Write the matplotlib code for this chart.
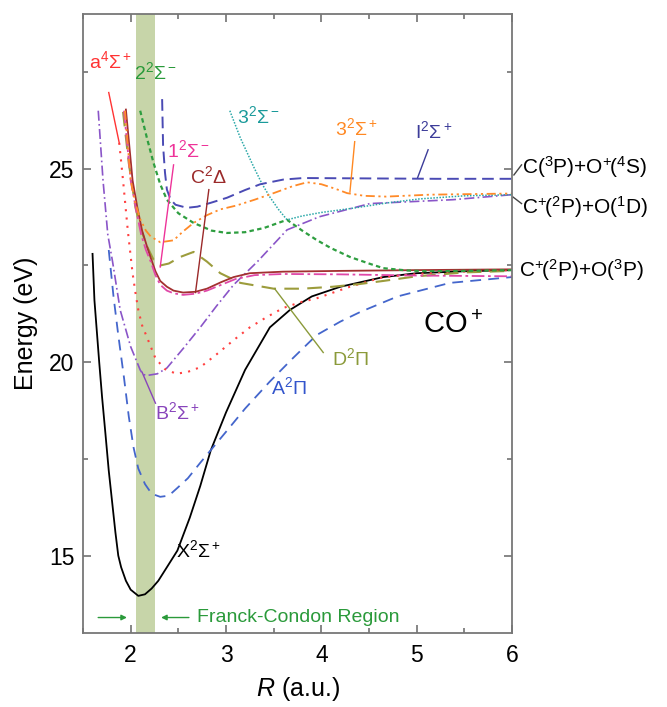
import numpy as np
import matplotlib
matplotlib.use('Agg')
import matplotlib.pyplot as plt
from matplotlib.ticker import MultipleLocator

plt.rcParams['font.family'] = ['Liberation Sans', 'DejaVu Sans']
plt.rcParams['mathtext.fontset'] = 'custom'
plt.rcParams['mathtext.rm'] = 'Liberation Sans'
plt.rcParams['mathtext.it'] = 'Liberation Sans:italic'
plt.rcParams['mathtext.bf'] = 'Liberation Sans:bold'

# potential energy curves of CO+ (R in a.u., E in eV)
R_X = [1.60, 1.62, 1.67, 1.70, 1.735, 1.77, 1.805, 1.84, 1.87, 1.90, 1.95, 2.00, 2.08, 2.15, 2.22, 2.29,
       2.38, 2.49, 2.62, 2.73, 2.84, 3.0, 3.2, 3.46, 3.67, 3.9, 4.2, 4.65, 5.0, 5.5, 6.0]
E_X = [22.8, 21.6, 20.0, 19.1, 18.16, 17.2, 16.4, 15.6, 15.0, 14.7, 14.35, 14.12, 13.96, 14.0, 14.15, 14.35,
       14.7, 15.13, 15.98, 16.8, 17.72, 18.7, 19.8, 20.9, 21.35, 21.7, 21.95, 22.2, 22.3, 22.35, 22.38]

R_A = [1.77, 1.82, 1.87, 1.93, 1.98, 2.03, 2.08, 2.15, 2.22, 2.31, 2.40, 2.49, 2.60, 2.73, 3.0, 3.2,
       3.46, 3.7, 3.95, 4.2, 4.41, 4.8, 5.35, 6.0]
E_A = [22.9, 21.7, 20.7, 19.6, 18.6, 17.8, 17.25, 16.85, 16.6, 16.52, 16.55, 16.75, 17.0, 17.4, 18.2, 18.8,
       19.5, 20.1, 20.7, 21.05, 21.3, 21.7, 22.05, 22.2]

R_B = [1.66, 1.71, 1.76, 1.81, 1.89, 2.0, 2.1, 2.13, 2.18, 2.28, 2.38, 2.55, 2.73, 2.9, 3.08, 3.33,
       3.64, 3.98, 4.51, 5.38, 6.0]
E_B = [26.5, 24.7, 23.3, 22.6, 21.35, 20.4, 19.8, 19.68, 19.66, 19.7, 19.85, 20.35, 20.9, 21.45, 22.0, 22.6,
       23.42, 23.76, 24.1, 24.2, 24.33]

R_a4 = [1.88, 1.92, 1.97, 2.02, 2.05, 2.08, 2.12, 2.17, 2.26, 2.36, 2.48, 2.60, 2.73, 2.9, 3.08, 3.25,
        3.43, 3.6, 3.78, 3.95, 4.3, 4.65, 5.2, 6.0]
E_a4 = [25.67, 24.7, 23.4, 22.3, 21.8, 21.35, 20.95, 20.65, 20.1, 19.82, 19.7, 19.75, 19.87, 20.2, 20.57, 20.9,
        21.17, 21.4, 21.55, 21.65, 21.95, 22.2, 22.32, 22.38]

R_D = [1.92, 1.98, 2.05, 2.10, 2.17, 2.24, 2.31, 2.40, 2.52, 2.66, 2.80, 2.94, 3.15, 3.5, 3.8, 4.12,
       4.4, 4.65, 5.0, 5.5, 6.0]
E_D = [26.47, 25.15, 24.0, 23.5, 23.0, 22.65, 22.5, 22.55, 22.72, 22.85, 22.6, 22.3, 22.05, 21.9, 21.9, 21.95,
       22.02, 22.1, 22.22, 22.32, 22.36]

R_C = [1.95, 2.02, 2.07, 2.12, 2.17, 2.21, 2.26, 2.31, 2.38, 2.45, 2.55, 2.68, 2.8, 2.95, 3.08, 3.25,
       3.6, 4.2, 5.0, 6.0]
E_C = [26.53, 24.7, 24.0, 23.4, 23.0, 22.7, 22.35, 22.1, 21.95, 21.85, 21.8, 21.82, 21.9, 22.07, 22.2, 22.3,
       22.34, 22.36, 22.38, 22.4]

R_1m = [1.93, 2.0, 2.06, 2.11, 2.16, 2.21, 2.26, 2.31, 2.38, 2.45, 2.55, 2.68, 2.8, 2.95, 3.1, 3.3,
        3.6, 4.2, 5.0, 6.0]
E_1m = [26.5, 24.7, 23.9, 23.3, 22.9, 22.6, 22.25, 22.0, 21.85, 21.78, 21.74, 21.77, 21.85, 22.0, 22.15, 22.25,
        22.28, 22.27, 22.24, 22.22]

R_2m = [2.10, 2.17, 2.24, 2.31, 2.38, 2.5, 2.66, 2.85, 3.01, 3.2, 3.4, 3.64, 3.8, 3.95, 4.1, 4.3,
        4.5, 4.65, 4.9, 5.1, 5.5, 6.0]
E_2m = [26.5, 25.8, 25.15, 24.6, 24.2, 23.85, 23.6, 23.4, 23.34, 23.36, 23.47, 23.68, 23.4, 23.16, 22.95, 22.72,
        22.55, 22.43, 22.37, 22.35, 22.36, 22.38]

R_3m = [3.04, 3.15, 3.29, 3.38, 3.46, 3.55, 3.64, 3.8, 4.0, 4.33, 4.7, 5.03, 5.5, 6.0]
E_3m = [26.5, 25.8, 25.05, 24.6, 24.27, 23.95, 23.68, 23.78, 23.87, 23.98, 24.12, 24.22, 24.3, 24.33]

R_3p = [1.94, 2.0, 2.05, 2.1, 2.16, 2.21, 2.31, 2.45, 2.55, 2.66, 2.8, 2.94, 3.11, 3.3, 3.5, 3.7,
        3.85, 4.0, 4.15, 4.27, 4.45, 4.68, 5.14, 6.0]
E_3p = [26.5, 24.7, 24.1, 23.7, 23.4, 23.25, 23.1, 23.15, 23.38, 23.6, 23.8, 23.95, 24.05, 24.2, 24.37, 24.55,
        24.65, 24.6, 24.48, 24.37, 24.3, 24.28, 24.33, 24.36]

R_I = [2.33, 2.34, 2.36, 2.38, 2.42, 2.47, 2.59, 2.7, 2.84, 3.01, 3.2, 3.36, 3.6, 3.81, 4.5, 5.2, 6.0]
E_I = [26.8, 25.6, 24.9, 24.46, 24.2, 24.07, 23.99, 24.02, 24.12, 24.25, 24.45, 24.6, 24.72, 24.76, 24.75, 24.74, 24.74]

fc_region = [2.06, 2.26]

fig = plt.figure(figsize=(6.67, 7.07), dpi=100)
ax = fig.add_axes([83/667, 74/707, 429/667, 619/707])

ax.axvspan(fc_region[0], fc_region[1], color='#c7d5a9', zorder=0, lw=0)

ax.plot(R_X, E_X, color='black', lw=1.3, ls='-')
ax.plot(R_A, E_A, color='#4466cc', lw=1.3, ls=(0, (6, 4)))
ax.plot(R_B, E_B, color='#8a55c8', lw=1.2, ls=(0, (6, 2, 1, 2)))
ax.plot(R_a4, E_a4, color='#ff4040', lw=1.5, ls=(0, (1, 3)))
ax.plot(R_D, E_D, color='#9c9c3c', lw=1.5, ls=(0, (7, 4)))
ax.plot(R_C, E_C, color='#a33030', lw=1.3, ls='-')
ax.plot(R_1m, E_1m, color='#e048a8', lw=1.3, ls=(0, (7, 2, 1.5, 2)))
ax.plot(R_2m, E_2m, color='#2e9e40', lw=1.6, ls=(0, (2, 1.5)))
ax.plot(R_3m, E_3m, color='#2aa8a8', lw=1.1, ls=(0, (1, 1)))
ax.plot(R_3p, E_3p, color='#ff8a28', lw=1.3, ls=(0, (5, 2, 1.2, 2, 1.2, 2)))
ax.plot(R_I, E_I, color='#4a4ab4', lw=1.4, ls=(0, (6, 3)))

ax.set_xlim(1.5, 6)
ax.set_ylim(13, 29)
ax.xaxis.set_major_locator(MultipleLocator(1))
ax.xaxis.set_minor_locator(MultipleLocator(0.5))
ax.yaxis.set_major_locator(MultipleLocator(5))
ax.yaxis.set_minor_locator(MultipleLocator(2.5))
ax.tick_params(which='both', direction='in', top=True, right=True, color='#666666', width=1.1)
ax.tick_params(which='major', length=6, labelsize=16.5, pad=6)
ax.tick_params(which='minor', length=3.5)
ax.tick_params(axis='x', pad=8)
for s in ax.spines.values():
    s.set_color('#777777')
    s.set_linewidth(1.3)

ax.set_xlabel('$R$ (a.u.)', fontsize=18, labelpad=6)
ax.set_ylabel('Energy (eV)', fontsize=18, labelpad=8)

fs = 14
# state labels with leader lines
ax.text(1.79, 27.77, r'a$^4\Sigma^+$', color='#ff3333', fontsize=fs, ha='center', va='center')
ax.plot([1.77, 1.88], [26.97, 25.67], color='#ff3333', lw=1)
ax.text(2.26, 27.5, r'2$^2\Sigma^-$', color='#2a9a3a', fontsize=fs, ha='center', va='center')
ax.text(2.61, 25.49, r'1$^2\Sigma^-$', color='#ee3399', fontsize=fs, ha='center', va='center')
ax.plot([2.45, 2.31], [25.1, 22.46], color='#ee3399', lw=1)
ax.text(2.82, 24.8, r'C$^2\Delta$', color='#9b2a2a', fontsize=fs, ha='center', va='center')
ax.plot([2.82, 2.68], [24.46, 21.8], color='#9b2a2a', lw=1)
ax.text(3.34, 26.37, r'3$^2\Sigma^-$', color='#1a9a9a', fontsize=fs, ha='center', va='center')
ax.text(4.37, 26.04, r'3$^2\Sigma^+$', color='#ff8822', fontsize=fs, ha='center', va='center')
ax.plot([4.35, 4.30], [25.7, 24.4], color='#ff8822', lw=1)
ax.text(5.18, 25.96, r'I$^2\Sigma^+$', color='#3c3c99', fontsize=fs, ha='center', va='center')
ax.plot([5.12, 5.01], [25.49, 24.77], color='#3c3c99', lw=1)
ax.text(4.30, 20.1, r'D$^2\Pi$', color='#8b9a3a', fontsize=fs, ha='center', va='center')
ax.plot([3.51, 4.02], [21.9, 20.25], color='#8b9a3a', lw=1)
ax.text(3.66, 19.35, r'A$^2\Pi$', color='#3355cc', fontsize=fs, ha='center', va='center')
ax.text(2.49, 18.7, r'B$^2\Sigma^+$', color='#8844bb', fontsize=fs, ha='center', va='center')
ax.plot([2.12, 2.26], [19.74, 18.94], color='#8844bb', lw=1)
ax.text(2.71, 15.13, r'X$^2\Sigma^+$', color='black', fontsize=fs, ha='center', va='center')
ax.text(5.38, 20.96, r'CO$^+$', color='black', fontsize=21, ha='center', va='center')

# asymptotes on the right
afs = 15
ax.text(6.10, 25.05, r'C($^3$P)+O$^{+\!}$($^4$S)', fontsize=afs, ha='left', va='center', clip_on=False)
ax.plot([6.02, 6.10], [24.84, 25.1], color='#444444', lw=1, clip_on=False)
ax.text(6.10, 24.0, r'C$^{+\!}$($^2$P)+O($^1$D)', fontsize=afs, ha='left', va='center', clip_on=False)
ax.plot([6.01, 6.10], [24.27, 24.1], color='#444444', lw=1, clip_on=False)
ax.text(6.07, 22.38, r'C$^{+\!}$($^2$P)+O($^3$P)', fontsize=afs, ha='left', va='center', clip_on=False)

# Franck-Condon region marker
fc_green = '#2a9a3a'
ax.annotate('', xy=(1.99, 13.4), xytext=(1.63, 13.4),
            arrowprops=dict(arrowstyle='-|>', color=fc_green, lw=1, mutation_scale=8))
ax.annotate('', xy=(2.29, 13.4), xytext=(2.64, 13.4),
            arrowprops=dict(arrowstyle='-|>', color=fc_green, lw=1, mutation_scale=8))
ax.text(2.70, 13.4, 'Franck-Condon Region', color=fc_green, fontsize=14, ha='left', va='center')

fig.savefig('out.png', dpi=100, facecolor='w')
